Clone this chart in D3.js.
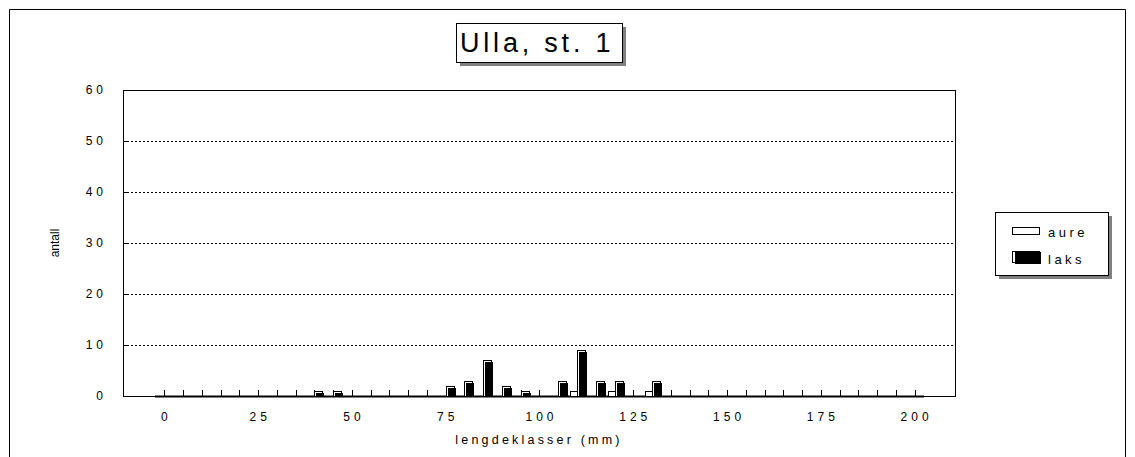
<!DOCTYPE html>
<html>
<head>
<meta charset="utf-8">
<script src="https://cdn.jsdelivr.net/npm/d3@7"></script>
<style>
  body { margin: 0; background: #fff; }
  text { font-family: "Liberation Sans", Arial, sans-serif; fill: #000; }
</style>
</head>
<body>
<div id="graph"></div>
<script>
// lengdeklasser 0..200 mm, step 5
var categories = d3.range(0, 205, 5);
var series = ["aure", "laks"];
// counts per length class (only non-zero ones)
var aure = {110: 1, 120: 1, 130: 1};
var laks = {40: 1, 45: 1, 75: 2, 80: 3, 85: 7, 90: 2, 95: 1, 105: 3, 110: 9, 115: 3, 120: 3, 130: 3};
var yTicks = [0, 10, 20, 30, 40, 50, 60];
var xLabels = [0, 25, 50, 75, 100, 125, 150, 175, 200];

var W = 1135, H = 457;
var plot = {left: 123, right: 955, top: 90, bottom: 396};

var svg = d3.select("#graph").append("svg")
    .attr("width", W).attr("height", H);

// outer chart border
svg.append("path")
   .attr("d", "M9.5," + H + "V9.5H1125.5V" + H)
   .attr("fill", "none").attr("stroke", "#000").attr("stroke-width", 1);

var xscale = d3.scaleBand().domain(categories).range([155, 924]);
var yscale = d3.scaleLinear().domain([0, 60]).range([plot.bottom, plot.top]);
var bw = xscale.bandwidth();

// grid lines (dotted)
svg.append("g").selectAll("line")
   .data(yTicks.filter(d => d > 0 && d < 60))
   .enter().append("line")
     .attr("x1", plot.left).attr("x2", plot.right)
     .attr("y1", d => Math.round(yscale(d)) + 0.5)
     .attr("y2", d => Math.round(yscale(d)) + 0.5)
     .attr("stroke", "#000").attr("stroke-dasharray", "2,2");

// y tick marks (inside)
svg.append("g").selectAll("line")
   .data(yTicks.filter(d => d > 0 && d < 60))
   .enter().append("line")
     .attr("x1", plot.left).attr("x2", plot.left + 5)
     .attr("y1", d => Math.round(yscale(d)) + 0.5)
     .attr("y2", d => Math.round(yscale(d)) + 0.5)
     .attr("stroke", "#000");

// plot frame
svg.append("rect")
   .attr("x", plot.left + 0.5).attr("y", plot.top + 0.5)
   .attr("width", plot.right - plot.left).attr("height", plot.bottom - plot.top)
   .attr("fill", "none").attr("stroke", "#000");

// x axis line over category range
svg.append("line")
   .attr("x1", 155).attr("x2", 924)
   .attr("y1", plot.bottom + 0.5).attr("y2", plot.bottom + 0.5)
   .attr("stroke", "#000").attr("stroke-width", 2);

// x tick marks at every class
svg.append("g").selectAll("line")
   .data(categories)
   .enter().append("line")
     .attr("x1", d => Math.round(xscale(d) + bw / 2) + 0.5)
     .attr("x2", d => Math.round(xscale(d) + bw / 2) + 0.5)
     .attr("y1", plot.bottom).attr("y2", plot.bottom - 6)
     .attr("stroke", "#000");

// aure bars: white, left of class centre
svg.append("g").selectAll("rect")
   .data(categories.filter(c => aure[c]))
   .enter().append("rect")
     .attr("x", c => Math.round(xscale(c) + bw / 2) - 7 + 0.5)
     .attr("y", c => Math.round(yscale(aure[c])) + 0.5)
     .attr("width", 7)
     .attr("height", c => plot.bottom - Math.round(yscale(aure[c])))
     .attr("fill", "#fff").attr("stroke", "#000");

// laks bars: outline + black fill shifted
var lk = svg.append("g").selectAll("g")
   .data(categories.filter(c => laks[c]))
   .enter().append("g");
lk.append("rect")
   .attr("x", c => Math.round(xscale(c) + bw / 2) + 0.5)
   .attr("y", c => Math.round(yscale(laks[c])) + 0.5)
   .attr("width", 8)
   .attr("height", c => plot.bottom - Math.round(yscale(laks[c])))
   .attr("fill", "#fff").attr("stroke", "#000");
lk.append("rect")
   .attr("x", c => Math.round(xscale(c) + bw / 2) + 2)
   .attr("y", c => Math.round(yscale(laks[c])) + 2)
   .attr("width", 8)
   .attr("height", c => plot.bottom - Math.round(yscale(laks[c])) - 1)
   .attr("fill", "#000");

// y labels
svg.append("g").selectAll("text")
   .data(yTicks)
   .enter().append("text")
     .attr("x", 103).attr("y", d => yscale(d) + 4)
     .attr("text-anchor", "end")
     .style("font-size", "12px").style("letter-spacing", "4px")
     .attr("dx", 4)
     .text(d => d);

// x labels
svg.append("g").selectAll("text")
   .data(xLabels)
   .enter().append("text")
     .attr("x", d => xscale(d) + bw / 2 + 2)
     .attr("y", 421)
     .attr("text-anchor", "middle")
     .style("font-size", "12px").style("letter-spacing", "4px")
     .text(d => d);

// axis titles
svg.append("text")
   .attr("x", 539).attr("y", 444)
   .attr("text-anchor", "middle")
   .style("font-size", "12.5px").style("letter-spacing", "3.2px")
   .text("lengdeklasser (mm)");

svg.append("text")
   .attr("transform", "translate(59,243) rotate(-90)")
   .attr("text-anchor", "middle")
   .style("font-size", "12px")
   .text("antall");

// title box with shadow
svg.append("rect").attr("x", 460).attr("y", 27).attr("width", 166).attr("height", 39).attr("fill", "#808080");
svg.append("rect").attr("x", 456.5).attr("y", 23.5).attr("width", 166).attr("height", 39)
   .attr("fill", "#fff").attr("stroke", "#000");
svg.append("text")
   .attr("x", 460).attr("y", 52)
   .style("font-size", "27px").style("letter-spacing", "3.8px")
   .text("Ulla, st. 1");

// legend with shadow
var lg = svg.append("g");
lg.append("rect").attr("x", 999).attr("y", 216).attr("width", 113).attr("height", 63).attr("fill", "#808080");
lg.append("rect").attr("x", 995.5).attr("y", 212.5).attr("width", 113).attr("height", 63)
  .attr("fill", "#fff").attr("stroke", "#000");
lg.append("rect").attr("x", 1012.5).attr("y", 227.5).attr("width", 27).attr("height", 7)
  .attr("fill", "#fff").attr("stroke", "#000");
lg.append("rect").attr("x", 1012.5).attr("y", 251.5).attr("width", 27).attr("height", 11)
  .attr("fill", "#fff").attr("stroke", "#000");
lg.append("rect").attr("x", 1015).attr("y", 252).attr("width", 26).attr("height", 12)
  .attr("fill", "#000");
lg.selectAll("text.leg")
  .data(series)
  .enter().append("text")
    .attr("class", "leg")
    .attr("x", 1048).attr("y", (d, i) => 237 + i * 27)
    .style("font-size", "13px").style("letter-spacing", "3.5px")
    .text(d => d);
</script>
</body>
</html>
